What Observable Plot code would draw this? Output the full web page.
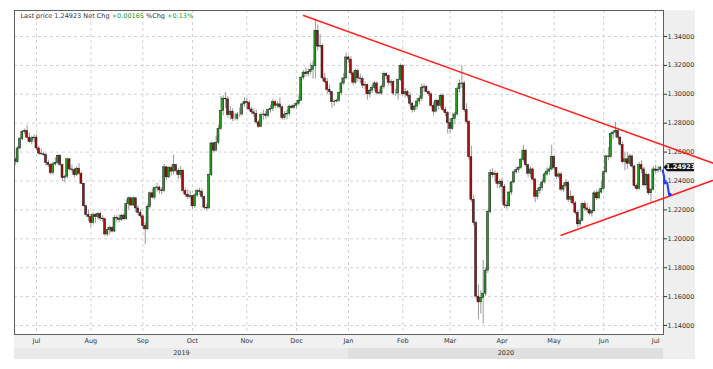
<!DOCTYPE html>
<html><head><meta charset="utf-8">
<script src="https://cdn.jsdelivr.net/npm/d3@7"></script>
<script src="https://cdn.jsdelivr.net/npm/@observablehq/plot@0.6"></script>
<style>
html,body{margin:0;padding:0;background:#fff;}
#chart svg{display:block;}
</style>
</head><body><div id="chart"></div>
<script>
// GBP/USD daily candles [open, high, low, close], one small array per month
const jun2019 = [
[1.2550,1.2560,1.2506,1.2530],[1.2530,1.2640,1.2520,1.2625],[1.2625,1.2700,1.2615,1.2690],
[1.2690,1.2750,1.2680,1.2740],[1.2740,1.2760,1.2720,1.2745],[1.2745,1.2784,1.2690,1.2700],
[1.2700,1.2730,1.2660,1.2670],[1.2670,1.2710,1.2650,1.2695],[1.2695,1.2720,1.2665,1.2700]];
const jul2019 = [
[1.2700,1.2720,1.2610,1.2625],[1.2625,1.2640,1.2580,1.2590],[1.2590,1.2620,1.2575,1.2585],
[1.2585,1.2600,1.2570,1.2580],[1.2580,1.2590,1.2500,1.2525],[1.2525,1.2545,1.2495,1.2510],
[1.2510,1.2520,1.2440,1.2455],[1.2455,1.2530,1.2440,1.2515],[1.2515,1.2560,1.2505,1.2525],
[1.2525,1.2580,1.2515,1.2575],[1.2575,1.2580,1.2500,1.2510],[1.2510,1.2515,1.2395,1.2420],
[1.2420,1.2440,1.2385,1.2430],[1.2430,1.2560,1.2415,1.2550],[1.2550,1.2555,1.2470,1.2480],
[1.2480,1.2510,1.2460,1.2475],[1.2475,1.2490,1.2420,1.2440],[1.2440,1.2500,1.2430,1.2485],
[1.2485,1.2520,1.2440,1.2450],[1.2450,1.2460,1.2375,1.2380],[1.2380,1.2385,1.2220,1.2225],
[1.2225,1.2235,1.2150,1.2165],[1.2165,1.2200,1.2120,1.2150]];
const aug2019 = [
[1.2150,1.2170,1.2080,1.2110],[1.2110,1.2180,1.2095,1.2165],[1.2165,1.2175,1.2105,1.2150],
[1.2150,1.2180,1.2130,1.2170],[1.2170,1.2185,1.2120,1.2140],[1.2140,1.2160,1.2115,1.2135],
[1.2135,1.2145,1.2015,1.2030],[1.2030,1.2080,1.2015,1.2060],[1.2060,1.2090,1.2025,1.2075],
[1.2075,1.2085,1.2040,1.2050],[1.2050,1.2160,1.2045,1.2145],[1.2145,1.2160,1.2110,1.2140],
[1.2140,1.2165,1.2110,1.2130],[1.2130,1.2170,1.2120,1.2160],[1.2160,1.2175,1.2125,1.2135],
[1.2135,1.2270,1.2130,1.2240],[1.2240,1.2290,1.2200,1.2280],[1.2280,1.2290,1.2225,1.2230],
[1.2230,1.2290,1.2225,1.2280],[1.2280,1.2285,1.2180,1.2210],[1.2210,1.2230,1.2160,1.2180],
[1.2180,1.2200,1.2140,1.2155]];
const sep2019 = [
[1.2155,1.2165,1.2070,1.2090],[1.2090,1.2110,1.1959,1.2065],[1.2065,1.2240,1.2060,1.2220],
[1.2220,1.2325,1.2205,1.2315],[1.2315,1.2345,1.2275,1.2285],[1.2285,1.2355,1.2270,1.2350],
[1.2350,1.2385,1.2325,1.2355],[1.2355,1.2365,1.2310,1.2335],[1.2335,1.2355,1.2305,1.2330],
[1.2330,1.2515,1.2320,1.2495],[1.2495,1.2500,1.2405,1.2425],[1.2425,1.2500,1.2415,1.2490],
[1.2490,1.2500,1.2435,1.2465],[1.2465,1.2580,1.2440,1.2510],[1.2510,1.2515,1.2455,1.2470],
[1.2470,1.2485,1.2410,1.2440],[1.2440,1.2500,1.2415,1.2470],[1.2470,1.2480,1.2315,1.2330],
[1.2330,1.2350,1.2285,1.2305],[1.2305,1.2340,1.2270,1.2290],[1.2290,1.2330,1.2275,1.2295]];
const oct2019 = [
[1.2295,1.2300,1.2205,1.2225],[1.2225,1.2310,1.2210,1.2300],[1.2300,1.2345,1.2285,1.2330],
[1.2330,1.2350,1.2300,1.2325],[1.2325,1.2345,1.2275,1.2290],[1.2290,1.2295,1.2200,1.2215],
[1.2215,1.2240,1.2195,1.2210],[1.2210,1.2450,1.2205,1.2440],[1.2440,1.2670,1.2430,1.2660],
[1.2660,1.2665,1.2595,1.2610],[1.2610,1.2710,1.2600,1.2665],[1.2665,1.2785,1.2650,1.2760],
[1.2760,1.2985,1.2750,1.2885],[1.2885,1.2990,1.2850,1.2970],[1.2970,1.3013,1.2900,1.2965],
[1.2965,1.2985,1.2835,1.2855],[1.2855,1.2915,1.2820,1.2880],[1.2880,1.2900,1.2810,1.2830],
[1.2830,1.2865,1.2815,1.2830],[1.2830,1.2875,1.2815,1.2860],[1.2860,1.2905,1.2840,1.2860],
[1.2860,1.2940,1.2850,1.2930],[1.2930,1.2975,1.2910,1.2945]];
const nov2019 = [
[1.2945,1.2975,1.2895,1.2940],[1.2940,1.2955,1.2880,1.2895],[1.2895,1.2910,1.2860,1.2875],
[1.2875,1.2900,1.2840,1.2865],[1.2865,1.2890,1.2795,1.2805],[1.2805,1.2820,1.2765,1.2775],
[1.2775,1.2870,1.2770,1.2855],[1.2855,1.2890,1.2820,1.2860],[1.2860,1.2880,1.2825,1.2850],
[1.2850,1.2895,1.2835,1.2890],[1.2890,1.2925,1.2870,1.2900],[1.2900,1.2965,1.2880,1.2945],
[1.2945,1.2960,1.2900,1.2920],[1.2920,1.2950,1.2900,1.2930],[1.2930,1.2975,1.2895,1.2910],
[1.2910,1.2920,1.2820,1.2835],[1.2835,1.2880,1.2820,1.2860],[1.2860,1.2890,1.2825,1.2865],
[1.2865,1.2925,1.2845,1.2915],[1.2915,1.2925,1.2895,1.2905],[1.2905,1.2935,1.2895,1.2920]];
const dec2019 = [
[1.2920,1.2955,1.2895,1.2935],[1.2935,1.2990,1.2920,1.2955],[1.2955,1.3120,1.2950,1.3115],
[1.3115,1.3165,1.3100,1.3150],[1.3150,1.3180,1.3120,1.3140],[1.3140,1.3175,1.3120,1.3155],
[1.3155,1.3215,1.3135,1.3170],[1.3170,1.3230,1.3105,1.3195],[1.3195,1.3514,1.3105,1.3440],
[1.3440,1.3480,1.3300,1.3330],[1.3330,1.3415,1.3320,1.3335],[1.3335,1.3345,1.3090,1.3110],
[1.3110,1.3145,1.3075,1.3085],[1.3085,1.3110,1.3000,1.3030],[1.3030,1.3065,1.2995,1.3015],
[1.3015,1.3020,1.2905,1.2945],[1.2945,1.2960,1.2915,1.2950],[1.2950,1.2965,1.2940,1.2955],
[1.2955,1.3015,1.2945,1.3010],[1.3010,1.3115,1.2990,1.3075],[1.3075,1.3145,1.3060,1.3110],
[1.3110,1.3285,1.3100,1.3255]];
const jan2020 = [
[1.3255,1.3265,1.3215,1.3240],[1.3240,1.3260,1.3130,1.3145],[1.3145,1.3160,1.3060,1.3080],
[1.3080,1.3175,1.3070,1.3160],[1.3160,1.3175,1.3085,1.3110],[1.3110,1.3140,1.3075,1.3105],
[1.3105,1.3120,1.3040,1.3060],[1.3060,1.3085,1.3030,1.3065],[1.3065,1.3070,1.2960,1.3000],
[1.3000,1.3035,1.2975,1.3025],[1.3025,1.3065,1.3005,1.3045],[1.3045,1.3090,1.3020,1.3075],
[1.3075,1.3085,1.2995,1.3010],[1.3010,1.3030,1.2995,1.3005],[1.3005,1.3065,1.2995,1.3050],
[1.3050,1.3155,1.3035,1.3140],[1.3140,1.3150,1.3100,1.3125],[1.3125,1.3135,1.3060,1.3080],
[1.3080,1.3100,1.3055,1.3085],[1.3085,1.3090,1.2990,1.3005],[1.3005,1.3035,1.2985,1.3005],
[1.3005,1.3105,1.2960,1.3100],[1.3100,1.3210,1.3090,1.3195]];
const feb2020 = [
[1.3195,1.3205,1.2990,1.3000],[1.3000,1.3040,1.2975,1.3015],[1.3015,1.3025,1.2970,1.2990],
[1.2990,1.3010,1.2920,1.2935],[1.2935,1.2945,1.2870,1.2890],[1.2890,1.2925,1.2875,1.2915],
[1.2915,1.2970,1.2890,1.2950],[1.2950,1.2990,1.2925,1.2970],[1.2970,1.3070,1.2950,1.3045],
[1.3045,1.3070,1.3010,1.3050],[1.3050,1.3060,1.3010,1.3015],[1.3015,1.3025,1.2985,1.3000],
[1.3000,1.3010,1.2910,1.2920],[1.2920,1.2945,1.2850,1.2880],[1.2880,1.2965,1.2870,1.2955],
[1.2955,1.2960,1.2890,1.2920],[1.2920,1.3000,1.2900,1.2990],[1.2990,1.3005,1.2880,1.2890],
[1.2890,1.2910,1.2845,1.2870],[1.2870,1.2880,1.2725,1.2800]];
const mar2020 = [
[1.2800,1.2830,1.2725,1.2760],[1.2760,1.2870,1.2750,1.2830],[1.2830,1.2875,1.2790,1.2860],
[1.2860,1.3050,1.2850,1.3035],[1.3035,1.3100,1.3010,1.3070],[1.3070,1.3200,1.3040,1.3075],
[1.3075,1.3090,1.2875,1.2890],[1.2890,1.2935,1.2795,1.2810],[1.2810,1.2820,1.2545,1.2565],
[1.2565,1.2640,1.2250,1.2270],[1.2270,1.2300,1.2090,1.2110],[1.2110,1.2120,1.1580,1.1600],
[1.1600,1.1680,1.1440,1.1560],[1.1560,1.1640,1.1480,1.1590],[1.1590,1.1850,1.1410,1.1620],
[1.1620,1.1800,1.1600,1.1780],[1.1780,1.2200,1.1760,1.2185],[1.2185,1.2480,1.2170,1.2455],
[1.2455,1.2485,1.2420,1.2440],[1.2440,1.2470,1.2395,1.2450],[1.2450,1.2460,1.2350,1.2380],
[1.2380,1.2410,1.2345,1.2395]];
const apr2020 = [
[1.2395,1.2420,1.2250,1.2360],[1.2360,1.2375,1.2210,1.2230],[1.2230,1.2260,1.2205,1.2225],
[1.2225,1.2330,1.2215,1.2320],[1.2320,1.2400,1.2300,1.2390],[1.2390,1.2470,1.2380,1.2460],
[1.2460,1.2495,1.2445,1.2475],[1.2475,1.2500,1.2455,1.2490],[1.2490,1.2560,1.2480,1.2545],
[1.2545,1.2647,1.2530,1.2610],[1.2610,1.2615,1.2495,1.2510],[1.2510,1.2515,1.2425,1.2450],
[1.2450,1.2500,1.2420,1.2480],[1.2480,1.2490,1.2400,1.2410],[1.2410,1.2420,1.2250,1.2290],
[1.2290,1.2350,1.2270,1.2330],[1.2330,1.2375,1.2310,1.2350],[1.2350,1.2410,1.2330,1.2390],
[1.2390,1.2460,1.2380,1.2445],[1.2445,1.2490,1.2430,1.2465],[1.2465,1.2500,1.2440,1.2480],
[1.2480,1.2646,1.2470,1.2565]];
const may2020 = [
[1.2565,1.2575,1.2470,1.2490],[1.2490,1.2495,1.2410,1.2430],[1.2430,1.2460,1.2415,1.2445],
[1.2445,1.2460,1.2325,1.2340],[1.2340,1.2385,1.2320,1.2365],[1.2365,1.2410,1.2350,1.2385],
[1.2385,1.2395,1.2250,1.2270],[1.2270,1.2330,1.2245,1.2290],[1.2290,1.2300,1.2230,1.2245],
[1.2245,1.2260,1.2165,1.2180],[1.2180,1.2195,1.2075,1.2100],[1.2100,1.2140,1.2080,1.2125],
[1.2125,1.2250,1.2120,1.2240],[1.2240,1.2260,1.2190,1.2210],[1.2210,1.2245,1.2180,1.2200],
[1.2200,1.2215,1.2160,1.2175],[1.2175,1.2200,1.2150,1.2190],[1.2190,1.2330,1.2185,1.2315],
[1.2315,1.2335,1.2265,1.2280],[1.2280,1.2340,1.2270,1.2320],[1.2320,1.2400,1.2310,1.2345]];
const jun2020 = [
[1.2345,1.2470,1.2335,1.2460],[1.2460,1.2580,1.2450,1.2570],[1.2570,1.2630,1.2540,1.2565],
[1.2565,1.2735,1.2555,1.2725],[1.2725,1.2750,1.2690,1.2735],[1.2735,1.2805,1.2700,1.2745],
[1.2745,1.2765,1.2690,1.2700],[1.2700,1.2710,1.2640,1.2650],[1.2650,1.2670,1.2520,1.2530],
[1.2530,1.2600,1.2470,1.2550],[1.2550,1.2595,1.2480,1.2520],[1.2520,1.2585,1.2505,1.2570],
[1.2570,1.2580,1.2490,1.2500],[1.2500,1.2510,1.2350,1.2365],[1.2365,1.2380,1.2330,1.2345],
[1.2345,1.2530,1.2335,1.2510],[1.2510,1.2540,1.2450,1.2480],[1.2480,1.2495,1.2360,1.2370],
[1.2370,1.2460,1.2340,1.2440],[1.2440,1.2450,1.2300,1.2315],[1.2315,1.2350,1.2252,1.2340],
[1.2340,1.2500,1.2330,1.2480]];
const jul2020 = [
[1.2480,1.2510,1.2450,1.2470],[1.2470,1.2500,1.2455,1.24758],[1.24758,1.2500,1.2460,1.24923]];

// axis labels
const yTicks = [1.14,1.16,1.18,1.20,1.22,1.24,1.26,1.28,1.30,1.32,1.34];
const monthStarts = ["2019-07-01","2019-08-01","2019-09-02","2019-10-01","2019-11-01","2019-12-02",
  "2020-01-01","2020-02-03","2020-03-02","2020-04-01","2020-05-01","2020-06-01","2020-07-01"];
const monthLabels = ["Jul","Aug","Sep","Oct","Nov","Dec","Jan","Feb","Mar","Apr","May","Jun","Jul"];
const yearLabels = ["2019","2020"];
const yearStart = "2020-01-01";

// drawn annotations (date, price)
const upperTrend = [{date:"2019-12-05", price:1.3545},{date:"2020-08-10", price:1.2501}];
const lowerTrend = [{date:"2020-05-06", price:1.2025},{date:"2020-08-10", price:1.2426}];
const blueSteps  = [0.92,1.47,1.77,2.6,2.9,3.6,4.0];
const bluePrices = [1.2473,1.2438,1.2383,1.2390,1.2383,1.2313,1.2307];

// ---- build
const firstDay = new Date("2019-06-18T00:00:00Z");
const isWeekday = d => d.getUTCDay() !== 0 && d.getUTCDay() !== 6;
const posOf = s => d3.utcDays(firstDay, new Date(s + "T00:00:00Z")).filter(isWeekday).length;
const ohlc = [jun2019,jul2019,aug2019,sep2019,oct2019,nov2019,dec2019,jan2020,feb2020,mar2020,apr2020,may2020,jun2020,jul2020].flat();
const candles = ohlc.map(([open,high,low,close],i)=>({pos:i, open, high, low, close}));
const N = candles.length;
const lastPos = N - 1;
const last = candles[N-1], prev = candles[N-2];
const monthPos = monthStarts.map(posOf);
const monthLabelOf = new Map(monthPos.map((p,i)=>[p, monthLabels[i]]));
const xDomain = [-0.31, N + 0.3];
const yBoundary = posOf(yearStart);
const yearBands = [
  {label: yearLabels[0], x1: xDomain[0], x2: yBoundary},
  {label: yearLabels[1], x1: yBoundary, x2: xDomain[1]}];
const trendU = upperTrend.map(d=>({pos: posOf(d.date), price: d.price}));
const trendL = lowerTrend.map(d=>({pos: posOf(d.date), price: d.price}));
const blue = blueSteps.map((s,i)=>({pos: lastPos + s, price: bluePrices[i]}));

const W = 713, H = 369, mL = 14, mR = 50, mT = 10, mB = 35;
const up = "#1f9e1f", down = "#a80d0d";

const chart = Plot.plot({
  width: W, height: H,
  marginLeft: mL, marginRight: mR, marginTop: mT, marginBottom: mB,
  style: {fontFamily: "'DejaVu Sans', sans-serif", fontSize: "6.5px", background: "transparent", overflow: "hidden", color: "#333"},
  x: {type: "linear", domain: xDomain, label: null},
  y: {type: "linear", domain: [1.13377, 1.35799], label: null},
  marks: [
    Plot.gridY(yTicks, {stroke: "#d2d2d2", strokeOpacity: 1, strokeDasharray: "3,3"}),
    Plot.gridX(monthPos, {stroke: "#d2d2d2", strokeOpacity: 1, strokeDasharray: "3,3"}),
    Plot.ruleX(candles, {x: "pos", y1: "low", y2: "high", stroke: "#999", strokeWidth: 1, clip: true}),
    Plot.rect(candles, {x1: d => d.pos - 0.42, x2: d => d.pos + 0.42, y1: "open", y2: "close",
      fill: d => d.close >= d.open ? up : down, stroke: "#1b1b1b", strokeWidth: 0.5, clip: true}),
    Plot.frame({stroke: "#5e5e5e"}),
    Plot.axisY(yTicks, {anchor: "right", label: null, tickFormat: d => d.toFixed(5), tickSize: 3, tickPadding: 1, fontSize: 6.5}),
    Plot.axisX(monthPos, {label: null, tickFormat: d => monthLabelOf.get(d), tickSize: 0, tickPadding: 4, fontSize: 6.5}),
    Plot.text(yearBands, {x: d => (d.x1 + d.x2) / 2, text: "label", frameAnchor: "bottom", dy: 20, fontSize: 6.5, fill: "#333"}),
    Plot.line(trendU, {x: "pos", y: "price", stroke: "#ff2222", strokeWidth: 1.6}),
    Plot.line(trendL, {x: "pos", y: "price", stroke: "#ff2222", strokeWidth: 1.6}),
    Plot.line(blue, {x: "pos", y: "price", stroke: "#1d3cff", strokeWidth: 2}),
    Plot.dot(blue.slice(-1), {x: "pos", y: "price", r: 1.8, fill: "#1d3cff"})
  ]
});

// chrome: panel backgrounds behind the plot
const svg = d3.select(chart);
const sx = chart.scale("x").apply, sy = chart.scale("y").apply;
const plotR = W - mR, plotB = H - mB;
const xBound = sx(yBoundary);
const bg = svg.insert("g", ":first-child");
bg.append("rect").attr("x", plotR).attr("y", mT).attr("width", 32).attr("height", 359 - mT).attr("fill", "#efefef");
bg.append("rect").attr("x", mL).attr("y", plotB).attr("width", plotR - mL).attr("height", 14).attr("fill", "#f1f1f1");
bg.append("rect").attr("x", mL).attr("y", plotB + 14).attr("width", xBound - mL).attr("height", 11).attr("fill", "#eaeaea");
bg.append("rect").attr("x", xBound).attr("y", plotB + 14).attr("width", plotR - xBound).attr("height", 11).attr("fill", "#dfdfdf");
bg.append("rect").attr("x", mL).attr("y", mT).attr("width", plotR - mL).attr("height", plotB - mT).attr("fill", "#fff");

// header line
const net = last.close - prev.close, pct = net / prev.close * 100;
const sign = v => (v >= 0 ? "+" : "");
const hdr = svg.append("text").attr("x", mL + 6.5).attr("y", mT + 7.8).attr("text-anchor", "start")
  .attr("font-size", 6.5).attr("fill", "#333").attr("font-family", "'DejaVu Sans', sans-serif");
hdr.append("tspan").text(`Last price ${last.close.toFixed(5)} Net Chg `);
hdr.append("tspan").attr("fill", "#1a9e1a").text(`${sign(net)}${net.toFixed(5)}`);
hdr.append("tspan").text(" %Chg ");
hdr.append("tspan").attr("fill", "#1a9e1a").text(`${sign(pct)}${pct.toFixed(2)}%`);

// last price tag on the right axis
const ly = sy(last.close);
svg.append("path")
  .attr("d", `M${plotR + 0.5},${ly} L${plotR + 4},${ly - 4} L${plotR + 31},${ly - 4} L${plotR + 31},${ly + 4} L${plotR + 4},${ly + 4} Z`)
  .attr("fill", "#111");
svg.append("text").attr("x", plotR + 17.5).attr("y", ly).attr("dy", "0.35em")
  .attr("text-anchor", "middle").attr("font-size", 6.5).attr("font-weight", "bold")
  .attr("fill", "#fff").attr("font-family", "'DejaVu Sans', sans-serif")
  .text(last.close.toFixed(5));

document.getElementById("chart").append(chart);
</script>
</body></html>
